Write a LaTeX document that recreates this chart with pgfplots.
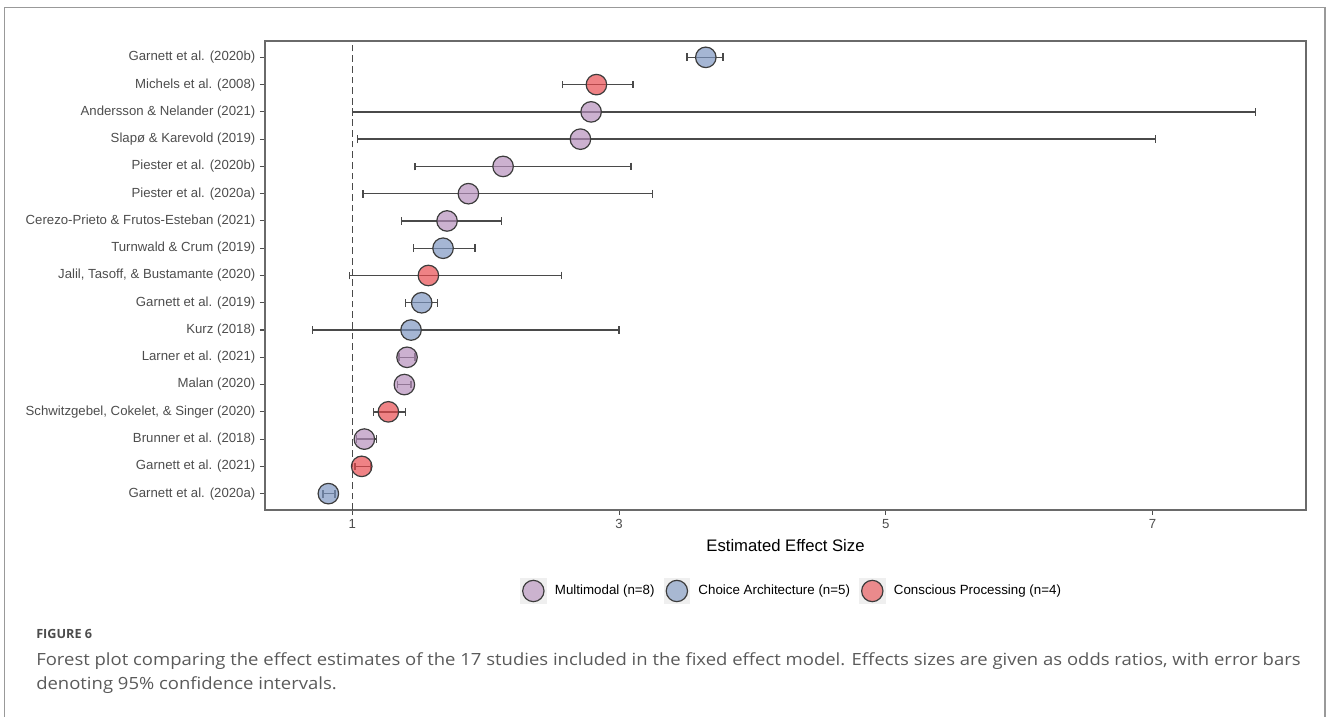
\documentclass[border=0pt]{standalone}
\usepackage{fontspec}
\setmainfont{Liberation Sans}
\newfontfamily\capfont[FakeStretch=1.1]{Open Sans}
\newfontfamily\capheadfont{Open Sans}
\usepackage{pgfplots}
\pgfplotsset{compat=1.18}
\usepackage{pgfplotstable}

\definecolor{mmfill}{HTML}{B48CBA}
\definecolor{cafill}{HTML}{7A94C0}
\definecolor{cpfill}{HTML}{E8474B}
\definecolor{edgecol}{HTML}{3C3C3C}
\definecolor{barcol}{HTML}{4A4A4A}
\definecolor{tickgrey}{HTML}{4D4D4D}
\definecolor{framecol}{HTML}{6A6A6A}
\definecolor{keybg}{HTML}{EFEFEF}
\definecolor{capgrey}{HTML}{5A5A5A}

% row (1 = bottom), odds ratio, lower and upper 95% CI
\pgfplotstableread{
y  x     lo    hi
15 2.79  1.00  7.77
14 2.71  1.04  7.02
13 2.13  1.47  3.09
12 1.87  1.08  3.25
11 1.71  1.37  2.12
6  1.41  1.35  1.47
5  1.39  1.34  1.44
3  1.09  1.03  1.18
}\multimodal

\pgfplotstableread{
y  x     lo    hi
17 3.65  3.51  3.78
10 1.68  1.46  1.92
8  1.52  1.40  1.64
7  1.44  0.70  3.00
1  0.82  0.78  0.87
}\choice

\pgfplotstableread{
y  x     lo    hi
16 2.83  2.575 3.105
9  1.57  0.98  2.57
4  1.27  1.16  1.40
2  1.07  1.02  1.135
}\conscious

\pgfplotsset{
  cibars/.style={
    forget plot, draw=none, mark=none,
    error bars/.cd, x dir=both, x explicit,
    error bar style={draw=barcol, solid, line width=1.05pt},
    error mark options={draw=barcol, solid, line width=1.05pt, mark size=2.9pt, rotate=90},
  },
  dot/.style={
    only marks, mark=*, mark size=7.7pt,
    mark options={draw=edgecol, line width=0.9pt, fill=#1, fill opacity=0.68},
    legend image code/.code={
      \fill[keybg] (0pt,-9.5pt) rectangle (19pt,9.5pt);
      \draw[edgecol, line width=0.9pt, fill=#1, fill opacity=0.6] (9.5pt,0pt) circle (8pt);
    },
  },
}

\begin{document}
\begin{tikzpicture}
\path[use as bounding box] (0,0) rectangle (996pt,537.75pt);
\draw[black!40, line width=0.9pt] (3.5pt,-1pt) -- (3.5pt,532pt) -- (993.75pt,532pt) -- (993.75pt,-1pt);

\begin{axis}[
  at={(198.75pt,155.25pt)}, anchor=south west,
  scale only axis, width=780.75pt, height=351.75pt,
  xmin=0.345, xmax=8.15, ymin=0.4, ymax=17.6,
  xtick={1,3,5,7},
  ytick={1,...,17},
  yticklabels={
    Garnett et al. (2020a),
    Garnett et al. (2021),
    Brunner et al. (2018),
    {Schwitzgebel, Cokelet, \& Singer (2020)},
    Malan (2020),
    Larner et al. (2021),
    Kurz (2018),
    Garnett et al. (2019),
    {Jalil, Tasoff, \& Bustamante (2020)},
    Turnwald \& Crum (2019),
    Cerezo-Prieto \& Frutos-Esteban (2021),
    Piester et al. (2020a),
    Piester et al. (2020b),
    Slapø \& Karevold (2019),
    Andersson \& Nelander (2021),
    Michels et al. (2008),
    Garnett et al. (2020b)},
  tick align=outside, tick pos=left,
  major tick length=3.75pt,
  every tick/.style={tickgrey, line width=0.8pt},
  axis line style={framecol, line width=0.9pt},
  tick label style={font=\fontsize{9.9}{11}\selectfont, text=tickgrey},
  /pgf/number format/assume math mode=true,
  xlabel={Estimated Effect Size},
  xlabel style={font=\fontsize{12.5}{14}\selectfont, at={(axis description cs:0.5,0)}, anchor=center, yshift=-26.5pt},
  legend columns=3,
  legend style={
    at={(0.505,-0.1727)}, anchor=center, draw=none, fill=none,
    font=\fontsize{10}{12}\selectfont,
    nodes={inner xsep=0pt, inner ysep=2pt},
    /tikz/every odd column/.style={column sep=6.5pt},
    /tikz/every even column/.style={column sep=7pt},
  },
  clip=false,
]
  % reference line at no effect
  \addplot[forget plot, dash pattern=on 5pt off 3pt, barcol, line width=0.9pt]
    coordinates {(1,0.4) (1,17.6)};

  % confidence intervals first, so the dots sit on top of them
  \addplot[cibars] table[x=x, y=y,
    x error plus expr=\thisrow{hi}-\thisrow{x},
    x error minus expr=\thisrow{x}-\thisrow{lo}] {\multimodal};
  \addplot[cibars] table[x=x, y=y,
    x error plus expr=\thisrow{hi}-\thisrow{x},
    x error minus expr=\thisrow{x}-\thisrow{lo}] {\choice};
  \addplot[cibars] table[x=x, y=y,
    x error plus expr=\thisrow{hi}-\thisrow{x},
    x error minus expr=\thisrow{x}-\thisrow{lo}] {\conscious};

  \addplot[dot=mmfill] table[x=x, y=y] {\multimodal};
  \addlegendentry{Multimodal (n=8)}
  \addplot[dot=cafill] table[x=x, y=y] {\choice};
  \addlegendentry{Choice Architecture (n=5)}
  \addplot[dot=cpfill] table[x=x, y=y] {\conscious};
  \addlegendentry{Conscious Processing (n=4)}
\end{axis}

\node[anchor=base west, inner sep=0pt, text=black!70] at (27pt,58.5pt)
  {\capheadfont\bfseries\fontsize{9.5}{11}\selectfont FIGURE 6};
\node[anchor=base west, inner sep=0pt, text=capgrey] at (27pt,38.25pt)
  {\capfont\fontsize{12.6}{15}\selectfont Forest plot comparing the effect estimates of the 17 studies included in the fixed effect model. Effects sizes are given as odds ratios, with error bars};
\node[anchor=base west, inner sep=0pt, text=capgrey] at (27pt,20.25pt)
  {\capfont\fontsize{12.6}{15}\selectfont denoting 95\% confidence intervals.};
\end{tikzpicture}
\end{document}
